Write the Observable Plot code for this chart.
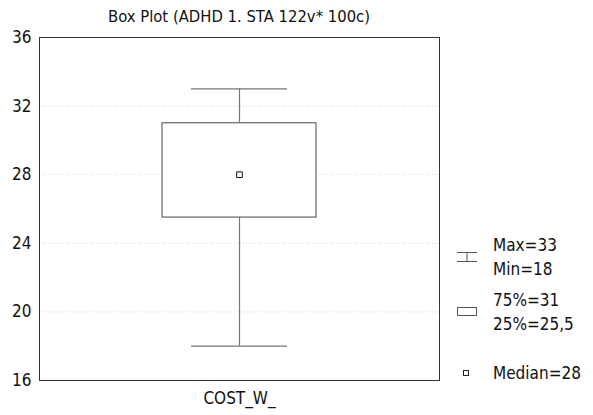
<!DOCTYPE html>
<html>
<head>
<meta charset="utf-8">
<script src="https://cdn.jsdelivr.net/npm/d3@7"></script>
<script src="https://cdn.jsdelivr.net/npm/@observablehq/plot@0.6"></script>
<style>
  body { margin: 0; background: #fff; }
  #wrap { position: relative; width: 593px; height: 415px; font-family: "Liberation Sans Narrow", "DejaVu Sans Condensed", "Roboto Condensed", sans-serif; color: #111; }
  #title { position: absolute; left: 39px; width: 400px; top: 7px; text-align: center; font-size: 16.5px; }
  #legend { position: absolute; left: 455px; top: 0; width: 138px; height: 415px; font-size: 17px; }
  .lg { position: absolute; left: 0; display: flex; align-items: center; }
  .lg .t { margin-left: 16px; line-height: 24px; }
</style>
</head>
<body>
<div id="wrap">
  <div id="chart"></div>
  <div id="title"></div>
  <div id="legend"></div>
</div>
<script>
const title = "Box Plot (ADHD 1. STA 122v* 100c)";
const categories = ["COST_W_"];
const mins = [18];
const q1s = [25.5];
const medians = [28];
const q3s = [31];
const maxs = [33];
const yTicks = [16, 20, 24, 28, 32, 36];
const gridTicks = [20, 24, 28, 32];

const rows = categories.map((c, i) => ({
  cat: c, min: mins[i], q1: q1s[i], median: medians[i], q3: q3s[i], max: maxs[i]
}));

const fmt = v => String(v).replace(".", ",");

const chart = Plot.plot({
  width: 593,
  height: 415,
  marginLeft: 39,
  marginRight: 154,
  marginTop: 37,
  marginBottom: 35,
  style: { fontFamily: "'Liberation Sans Narrow', 'DejaVu Sans Condensed', sans-serif", fontSize: "17px", color: "#111", background: "white" },
  x: { domain: categories, padding: 0.444, label: null, tickSize: 0, tickPadding: 10 },
  y: { domain: [16, 36], ticks: yTicks, label: null, tickSize: 0, tickPadding: 8 },
  marks: [
    Plot.ruleY(gridTicks, { stroke: "#d4d4d4", strokeDasharray: "1,2", strokeWidth: 1 }),
    Plot.ruleX(rows, { x: "cat", y1: "min", y2: "q1", stroke: "#777", strokeWidth: 1.2 }),
    Plot.ruleX(rows, { x: "cat", y1: "q3", y2: "max", stroke: "#777", strokeWidth: 1.2 }),
    Plot.tickY(rows, { x: "cat", y: "min", stroke: "#777", strokeWidth: 1.2, insetLeft: 29, insetRight: 29 }),
    Plot.tickY(rows, { x: "cat", y: "max", stroke: "#777", strokeWidth: 1.2, insetLeft: 29, insetRight: 29 }),
    Plot.barY(rows, { x: "cat", y1: "q1", y2: "q3", fill: "white", stroke: "#666", strokeWidth: 1.2 }),
    Plot.dot(rows, { x: "cat", y: "median", symbol: "square", r: 3.2, fill: "white", stroke: "#111", strokeWidth: 1 }),
    Plot.frame({ stroke: "#333", strokeWidth: 1 }),
    Plot.axisY({ ticks: yTicks, tickSize: 0, tickPadding: 8, fontSize: 17 }),
    Plot.axisX({ tickSize: 0, tickPadding: 11, fontSize: 17 })
  ]
});
document.getElementById("chart").appendChild(chart);
document.getElementById("title").textContent = title;

const r = rows[0];
const legend = document.getElementById("legend");
const items = [
  { top: 233, svg: '<svg width="22" height="16"><line x1="2" y1="3.5" x2="22" y2="3.5" stroke="#555"/><line x1="2" y1="12.5" x2="22" y2="12.5" stroke="#555"/><line x1="12" y1="3.5" x2="12" y2="12.5" stroke="#555"/></svg>', lines: ["Max=" + fmt(r.max), "Min=" + fmt(r.min)] },
  { top: 288, svg: '<svg width="22" height="12"><rect x="2.5" y="1.5" width="19" height="8" fill="white" stroke="#555"/></svg>', lines: ["75%=" + fmt(r.q3), "25%=" + fmt(r.q1)] },
  { top: 361, svg: '<svg width="22" height="10"><rect x="8.5" y="2.5" width="5" height="5" fill="white" stroke="#222"/></svg>', lines: ["Median=" + fmt(r.median)] }
];
for (const it of items) {
  const d = document.createElement("div");
  d.className = "lg";
  d.style.top = it.top + "px";
  d.innerHTML = it.svg + '<div class="t">' + it.lines.join("<br>") + "</div>";
  legend.appendChild(d);
}
</script>
</body>
</html>
